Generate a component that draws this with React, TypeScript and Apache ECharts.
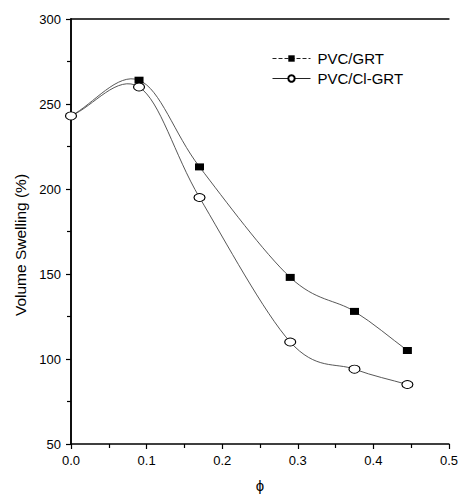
import React, { useEffect, useRef } from "react";
import * as echarts from "echarts";

const phi = [0, 0.09, 0.17, 0.29, 0.375, 0.445];
const grtValues = [243, 264, 213, 148, 128, 105];
const clGrtValues = [243, 260, 195, 110, 94, 85];
const seriesNames = ["PVC/GRT", "PVC/Cl-GRT"];
const xTicks = { min: 0, max: 0.5, interval: 0.1 };
const yTicks = { min: 50, max: 300, interval: 50 };
const yTitle = "Volume Swelling (%)";
const xTitle = "ϕ";

const FONT = "'Liberation Sans', Arial, sans-serif";

// Smooth curve (Catmull-Rom as cubic Bezier) through the data, positioned by the axes
function splineRenderer(color: string) {
  return (params: any, api: any) => {
    const i = params.dataIndexInside;
    const n = params.dataInsideLength;
    if (i >= n - 1) return null;
    const P = (k: number) => api.coord([api.value(0, k), api.value(1, k)]);
    const tangent = (k: number) => {
      if (k === 0) {
        const a = P(0), b = P(1);
        return [b[0] - a[0], b[1] - a[1]];
      }
      if (k === n - 1) {
        const a = P(n - 2), b = P(n - 1);
        return [b[0] - a[0], b[1] - a[1]];
      }
      const a = P(k - 1), b = P(k + 1);
      return [(b[0] - a[0]) / 2, (b[1] - a[1]) / 2];
    };
    const p0 = P(i), p1 = P(i + 1);
    const m0 = tangent(i), m1 = tangent(i + 1);
    return {
      type: "bezierCurve",
      shape: {
        x1: p0[0], y1: p0[1],
        x2: p1[0], y2: p1[1],
        cpx1: p0[0] + m0[0] / 3, cpy1: p0[1] + m0[1] / 3,
        cpx2: p1[0] - m1[0] / 3, cpy2: p1[1] - m1[1] / 3,
      },
      style: { stroke: color, lineWidth: 0.9, fill: null },
      silent: true,
    };
  };
}

export default function App() {
  const ref = useRef<HTMLDivElement>(null);
  useEffect(() => {
    if (!ref.current) return;
    const chart = echarts.init(ref.current, null, { renderer: "svg" });
    const axisLine = { show: true, lineStyle: { color: "#000", width: 1.5 } };
    const grtPairs = phi.map((x, i) => [x, grtValues[i]]);
    const clPairs = phi.map((x, i) => [x, clGrtValues[i]]);
    const grtMarkers = grtPairs.map((p, i) => (i === 0 ? { value: p, symbol: "none" } : { value: p }));
    chart.setOption({
      animation: false,
      backgroundColor: "#fff",
      grid: { left: 71, top: 19, width: 381, height: 425, containLabel: false },
      graphic: [
        {
          type: "text",
          x: 20,
          y: 245,
          rotation: Math.PI / 2,
          style: {
            text: yTitle,
            fontFamily: FONT,
            fontSize: 15.5,
            fill: "#000",
            textAlign: "center",
            textVerticalAlign: "middle",
          },
        },
      ],
      xAxis: [
        {
          type: "value",
          min: xTicks.min,
          max: xTicks.max,
          interval: xTicks.interval,
          name: xTitle,
          nameLocation: "middle",
          nameGap: 34,
          nameTextStyle: { fontFamily: FONT, fontSize: 15, color: "#000" },
          axisLine,
          axisTick: { show: true, length: 5, lineStyle: { color: "#000", width: 1.2 } },
          minorTick: { show: true, splitNumber: 2, length: 4, lineStyle: { color: "#000", width: 1.2 } },
          splitLine: { show: false },
          axisLabel: {
            fontFamily: FONT,
            fontSize: 13,
            color: "#000",
            margin: 10,
            formatter: (v: number) => v.toFixed(1),
          },
        },
        {
          type: "value",
          position: "top",
          min: xTicks.min,
          max: xTicks.max,
          interval: xTicks.interval,
          axisLine,
          axisTick: { show: false },
          axisLabel: { show: false },
          splitLine: { show: false },
        },
      ],
      yAxis: [
        {
          type: "value",
          min: yTicks.min,
          max: yTicks.max,
          interval: yTicks.interval,
          axisLine,
          axisTick: { show: true, length: 5, lineStyle: { color: "#000", width: 1.2 } },
          minorTick: { show: true, splitNumber: 2, length: 4, lineStyle: { color: "#000", width: 1.2 } },
          splitLine: { show: false },
          axisLabel: { fontFamily: FONT, fontSize: 13, color: "#000", margin: 10 },
        },
        {
          type: "value",
          position: "right",
          min: yTicks.min,
          max: yTicks.max,
          interval: yTicks.interval,
          axisLine,
          axisTick: { show: false },
          axisLabel: { show: false },
          splitLine: { show: false },
        },
      ],
      legend: {
        orient: "vertical",
        left: 267,
        top: 46,
        itemWidth: 38,
        itemHeight: 8,
        itemGap: 5,
        textStyle: { fontFamily: FONT, fontSize: 15, color: "#000", padding: [0, 0, 0, 2] },
        data: [
          { name: seriesNames[0], lineStyle: { type: "dashed", width: 1, color: "#222", opacity: 1 } },
          { name: seriesNames[1], lineStyle: { width: 1, color: "#222", opacity: 1 } },
        ],
      },
      series: [
        {
          type: "custom",
          renderItem: splineRenderer("#444"),
          data: grtPairs,
          encode: { x: 0, y: 1 },
          z: 1,
        },
        {
          type: "custom",
          renderItem: splineRenderer("#444"),
          data: clPairs,
          encode: { x: 0, y: 1 },
          z: 1,
        },
        {
          name: seriesNames[0],
          type: "line",
          data: grtMarkers,
          symbol: "rect",
          symbolSize: [9, 7],
          lineStyle: { opacity: 0 },
          itemStyle: { color: "#000", borderColor: "#000", borderWidth: 0 },
          z: 2,
        },
        {
          name: seriesNames[1],
          type: "line",
          data: clPairs,
          symbol: "circle",
          symbolSize: [11, 8],
          lineStyle: { opacity: 0 },
          itemStyle: { color: "#fff", borderColor: "#000", borderWidth: 1 },
          z: 3,
        },
      ],
    });
    return () => chart.dispose();
  }, []);
  return (
    <div
      ref={ref}
      style={{ position: "fixed", left: 0, top: 0, width: 461, height: 498, background: "#fff" }}
    />
  );
}
